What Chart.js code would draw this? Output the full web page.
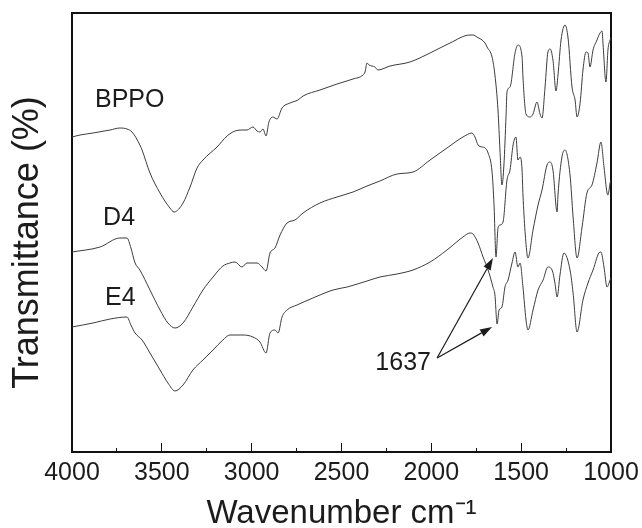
<!DOCTYPE html>
<html>
<head>
<meta charset="utf-8">
<script src="https://cdn.jsdelivr.net/npm/chart.js@4/dist/chart.umd.min.js"></script>
<style>
  html, body { margin: 0; padding: 0; background: #fff; }
  #wrap { width: 642px; height: 528px; }
</style>
</head>
<body>
<div id="wrap"><canvas id="c" width="642" height="528"></canvas></div>
<script>
// Wavenumbers (cm^-1) and relative transmittance (arbitrary, offset units)
const bppoWavenumber = [4000,3955,3883,3788,3733,3694,3666,3622,3610,3566,3510,3455,3432,3382,3343,3304,3271,3193,3137,3093,3048,3026,2993,2970,2954,2937,2920,2904,2881,2859,2831,2787,2742,2714,2620,2525,2436,2380,2369,2358,2347,2330,2314,2297,2230,2119,2007,1896,1785,1768,1746,1701,1690,1662,1646,1629,1618,1607,1596,1584,1579,1562,1534,1518,1495,1490,1473,1451,1434,1412,1395,1384,1367,1351,1339,1323,1306,1295,1278,1256,1239,1217,1200,1189,1172,1156,1139,1128,1117,1100,1078,1061,1050,1044,1028,1017,1005,1000];
const bppoValue = [315,317,319,322,324,323,320,307,302,279,259,244,240,249,265,284,292,305,316,321,322,322,325,321,320,323,316,330,335,333,344,349,352,356,362,368,373,377,380,389,387,386,385,382,386,390,399,409,417,417,415,409,405,395,377,342,302,267,287,337,360,365,399,407,395,375,338,335,338,350,338,334,365,400,403,392,361,377,412,427,414,365,352,335,349,382,400,399,385,402,412,419,421,407,370,402,412,414];

const d4Wavenumber = [4000,3844,3733,3694,3672,3649,3622,3566,3510,3466,3427,3382,3327,3271,3215,3160,3121,3093,3054,3026,2970,2942,2920,2898,2870,2842,2803,2759,2714,2620,2525,2436,2358,2286,2191,2102,2007,1913,1824,1774,1757,1740,1718,1701,1684,1662,1651,1640,1629,1618,1601,1579,1562,1545,1529,1518,1506,1495,1490,1467,1462,1434,1406,1384,1356,1339,1323,1300,1295,1273,1256,1228,1211,1189,1161,1134,1106,1078,1056,1039,1022,1017,1005,1000];
const d4Value = [200,205,214,214,204,189,182,162,142,129,124,129,145,162,175,186,189,190,185,189,189,185,181,199,204,217,229,232,239,249,255,260,266,271,278,280,292,304,315,319,315,307,305,304,299,280,247,195,224,227,230,272,282,307,315,292,295,282,257,197,194,222,247,262,287,290,282,240,257,295,302,277,235,194,225,259,267,289,310,285,259,257,269,272];

const e4Wavenumber = [4000,3883,3788,3694,3672,3649,3610,3566,3510,3466,3427,3382,3327,3271,3215,3160,3121,3048,2993,2954,2920,2898,2870,2853,2831,2803,2748,2659,2547,2469,2358,2286,2191,2102,2007,1913,1824,1785,1768,1740,1712,1684,1657,1646,1634,1623,1607,1590,1573,1551,1534,1518,1506,1490,1473,1462,1434,1406,1378,1351,1328,1312,1300,1284,1262,1228,1211,1189,1156,1128,1100,1061,1056,1039,1022,1005,1000];
const e4Value = [125,129,133,135,127,119,112,99,82,69,61,67,82,92,102,112,117,117,115,110,99,119,122,119,135,142,147,154,162,165,171,175,178,182,190,202,215,219,218,209,195,182,165,157,128,142,145,165,172,189,200,185,189,165,132,122,142,162,172,185,182,169,155,177,199,182,159,120,152,169,182,200,200,185,165,172,174];

const seriesNames = ['BPPO', 'D4', 'E4'];
const xTickValues = [4000, 3500, 3000, 2500, 2000, 1500, 1000];

// Text annotations (in data coordinates)
const notes = [
  { text: 'BPPO', wn: 3872, val: 352, align: 'left' },
  { text: 'D4',   wn: 3827, val: 234, align: 'left' },
  { text: 'E4',   wn: 3816, val: 154, align: 'left' },
  { text: '1637', wn: 2002, val: 89,  align: 'right' }
];
const arrowFrom = { wn: 1968, val: 94 };
const arrowTargets = [ { wn: 1657, val: 194 }, { wn: 1662, val: 125 } ];

function pts(xs, ys) { return xs.map((x, i) => ({ x: x, y: ys[i] })); }

const FONT = "'Liberation Sans', Arial, Helvetica, sans-serif";
const INK = '#1c1c1c';
const LINE = '#3c3c3c';

const notesPlugin = {
  id: 'notes',
  afterDatasetsDraw(chart) {
    const { ctx, scales } = chart;
    const sx = scales.x, sy = scales.y;
    ctx.save();
    ctx.fillStyle = INK;
    ctx.font = '25px ' + FONT;
    ctx.textBaseline = 'middle';
    notes.forEach(n => {
      ctx.textAlign = n.align;
      ctx.fillText(n.text, sx.getPixelForValue(n.wn), sy.getPixelForValue(n.val));
    });
    const fx = sx.getPixelForValue(arrowFrom.wn), fy = sy.getPixelForValue(arrowFrom.val);
    ctx.strokeStyle = INK;
    ctx.lineWidth = 1.2;
    arrowTargets.forEach(t => {
      const tx = sx.getPixelForValue(t.wn), ty = sy.getPixelForValue(t.val);
      const ang = Math.atan2(ty - fy, tx - fx);
      const hl = 12, hw = 4;
      const bx = tx - hl * Math.cos(ang), by = ty - hl * Math.sin(ang);
      ctx.beginPath();
      ctx.moveTo(fx, fy);
      ctx.lineTo(bx, by);
      ctx.stroke();
      ctx.beginPath();
      ctx.moveTo(tx, ty);
      ctx.lineTo(bx + hw * Math.sin(ang), by - hw * Math.cos(ang));
      ctx.lineTo(bx - hw * Math.sin(ang), by + hw * Math.cos(ang));
      ctx.closePath();
      ctx.fill();
    });
    ctx.restore();
  }
};

const mkDs = (label, xs, ys) => ({
  label: label,
  data: pts(xs, ys),
  borderColor: LINE,
  borderWidth: 1,
  pointRadius: 0,
  fill: false,
  cubicInterpolationMode: 'monotone'
});

new Chart(document.getElementById('c'), {
  type: 'line',
  data: {
    datasets: [
      mkDs(seriesNames[0], bppoWavenumber, bppoValue),
      mkDs(seriesNames[1], d4Wavenumber, d4Value),
      mkDs(seriesNames[2], e4Wavenumber, e4Value)
    ]
  },
  options: {
    responsive: false,
    animation: false,
    layout: { padding: { top: 13, right: 31, bottom: 0, left: 0 } },
    plugins: { legend: { display: false }, tooltip: { enabled: false } },
    scales: {
      x: {
        type: 'linear',
        position: 'bottom',
        min: 1000, max: 4000, reverse: true,
        border: { display: true, color: '#111', width: 2 },
        grid: {
          display: true, drawOnChartArea: false, drawTicks: true,
          tickLength: -9, tickColor: '#111', tickWidth: 1,
          tickBorderDash: (ctx) => (ctx.tick && xTickValues.includes(ctx.tick.value)) ? [] : [5, 30]
        },
        ticks: {
          stepSize: 250, autoSkip: false, maxRotation: 0, padding: 3,
          color: INK, font: { family: FONT, size: 25, lineHeight: '55px' },
          callback: (v) => xTickValues.includes(v) ? String(v) : ''
        },
        title: {
          display: true, text: 'Wavenumber cm\u207B\u00B9', color: INK,
          font: { family: FONT, size: 33 }, padding: { top: -9.8, bottom: -5.8 }
        }
      },
      x2: {
        type: 'linear', position: 'top', min: 1000, max: 4000, reverse: true,
        border: { display: true, color: '#111', width: 2 },
        grid: { display: false, drawTicks: false },
        ticks: { display: false }
      },
      y: {
        type: 'linear', position: 'left', min: 0, max: 439,
        border: { display: true, color: '#111', width: 2 },
        grid: { display: false, drawTicks: false },
        ticks: { display: false },
        title: {
          display: true, text: 'Transmittance (%)  ', color: INK,
          font: { family: FONT, size: 36 }, padding: { top: 6.4, bottom: 22.4 }
        }
      },
      y2: {
        type: 'linear', position: 'right', min: 0, max: 439,
        border: { display: true, color: '#111', width: 2 },
        grid: { display: false, drawTicks: false },
        ticks: { display: false }
      }
    }
  },
  plugins: [notesPlugin]
});
</script>
</body>
</html>
